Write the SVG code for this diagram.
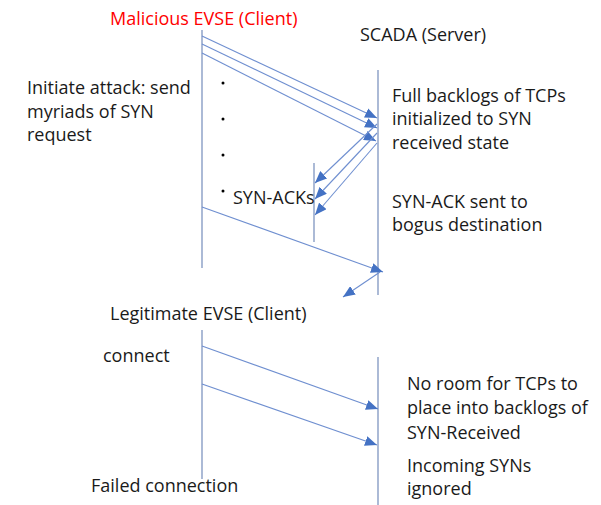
<svg xmlns="http://www.w3.org/2000/svg" width="601" height="505" viewBox="0 0 601 505">
<defs>
<marker id="ah" viewBox="0 0 12 10" refX="12" refY="5" markerWidth="12" markerHeight="10" markerUnits="userSpaceOnUse" orient="auto">
<path d="M0,0 L12,5 L0,10 Z" fill="#4472C4"/>
</marker>
<style>
text{font-family:"Open Sans","Liberation Sans",Arial,sans-serif;font-size:18px;fill:#1a1a1a}
.red{fill:#ff0000}
.life{stroke:#7f95c0;stroke-width:1.3;fill:none}
.msg{stroke:#6f8fd0;stroke-width:1.1;fill:none;marker-end:url(#ah)}
.dot{fill:#000}
</style>
</defs>
<rect width="601" height="505" fill="#fff"/>
<g id="lifelines">
<line class="life" x1="202" y1="30" x2="202" y2="268"/>
<line class="life" x1="378" y1="70" x2="378" y2="295"/>
<line class="life" x1="314" y1="163" x2="314" y2="242"/>
<line class="life" x1="202" y1="330" x2="202" y2="479"/>
<line class="life" x1="378" y1="357" x2="378" y2="505"/>
</g>
<g id="connectors">
<line class="msg" x1="202" y1="36" x2="377" y2="118"/>
<line class="msg" x1="202" y1="44" x2="377" y2="128"/>
<line class="msg" x1="202" y1="53" x2="376" y2="141"/>
<line class="msg" x1="377" y1="124" x2="315" y2="183"/>
<line class="msg" x1="377" y1="133" x2="315" y2="199"/>
<line class="msg" x1="377" y1="143" x2="315" y2="215"/>
<line class="msg" x1="202" y1="207" x2="383" y2="272"/>
<line class="msg" x1="380" y1="272" x2="343" y2="297"/>
<line class="msg" x1="202" y1="346" x2="378" y2="409"/>
<line class="msg" x1="202" y1="384" x2="377" y2="445"/>
</g>
<g id="dots">
<circle class="dot" cx="223" cy="83" r="1.5"/>
<circle class="dot" cx="223" cy="119" r="1.5"/>
<circle class="dot" cx="223" cy="155" r="1.5"/>
<circle class="dot" cx="223" cy="191" r="1.5"/>
</g>
<g id="malicious">
<text class="red" x="110" y="25">Malicious EVSE (Client)</text>
<text x="27" y="94">Initiate attack: send</text>
<text x="27" y="118">myriads of SYN</text>
<text x="27" y="141">request</text>
<text x="233" y="204">SYN-ACKs</text>
</g>
<g id="scada">
<text x="360" y="41">SCADA (Server)</text>
<text x="392" y="102">Full backlogs of TCPs</text>
<text x="392" y="125">initialized to SYN</text>
<text x="392" y="149">received state</text>
<text x="392" y="208">SYN-ACK sent to</text>
<text x="392" y="231">bogus destination</text>
</g>
<g id="legitimate">
<text x="110" y="320">Legitimate EVSE (Client)</text>
<text x="103" y="362">connect</text>
<text x="91" y="492">Failed connection</text>
</g>
<g id="scada2">
<text x="407" y="390">No room for TCPs to</text>
<text x="407" y="414">place into backlogs of</text>
<text x="407" y="439">SYN-Received</text>
<text x="407" y="472">Incoming SYNs</text>
<text x="407" y="495">ignored</text>
</g>
</svg>
